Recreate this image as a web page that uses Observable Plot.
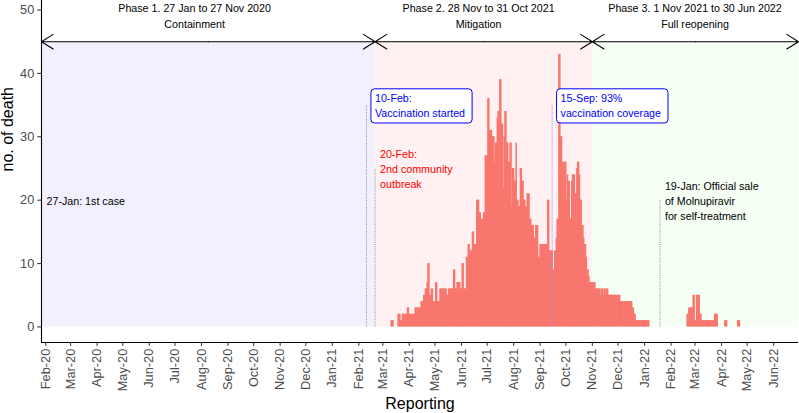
<!DOCTYPE html>
<html>
<head>
<meta charset="utf-8">
<script src="https://cdn.jsdelivr.net/npm/d3@7"></script>
<script src="https://cdn.jsdelivr.net/npm/@observablehq/plot@0.6"></script>
<style>
html, body { margin: 0; padding: 0; background: #fff; }
svg { display: block; }
</style>
</head>
<body>
<div id="chart"></div>
<script>
// ---------------- data ----------------
const dataStart = "2021-03-01"; // first day of the daily series
const dailyDeaths = [
  0,0,0,0,0,0,0,0,0,0,1,1,1,0,0,0,0,0,2,2,
  2,1,1,2,2,2,2,2,2,3,3,2,2,2,2,2,2,2,3,3,
  3,3,3,3,3,4,4,4,5,5,6,6,7,10,10,5,5,6,6,4,
  4,4,7,7,4,4,4,6,6,6,6,6,6,6,6,5,5,6,6,6,
  6,6,6,9,9,6,6,7,7,7,7,6,6,10,10,6,6,6,11,11,
  13,13,12,12,12,15,15,13,13,13,20,20,20,18,18,17,17,17,18,18,
  27,27,27,36,36,31,31,31,30,30,30,26,29,29,33,34,34,39,39,32,
  32,22,30,34,34,29,29,26,26,29,29,19,25,25,23,23,29,20,20,19,
  19,25,25,23,23,20,20,19,19,21,21,21,17,17,16,16,16,14,14,16,
  16,16,11,11,13,13,13,13,13,13,13,13,13,20,20,12,12,12,12,9,
  9,12,12,14,17,17,43,43,30,30,26,26,25,26,26,20,24,23,23,17,
  17,23,24,24,24,21,21,25,26,26,24,20,20,16,16,14,13,13,11,9,
  9,8,7,7,7,7,7,7,7,6,6,6,6,6,6,5,6,6,5,6,
  6,5,6,6,5,5,5,5,5,5,5,5,5,5,5,5,5,5,4,4,
  4,4,4,4,4,4,4,4,4,4,4,4,3,3,2,2,1,1,1,1,
  1,1,1,1,1,1,1,1,1,1,1,1,0,0,0,0,0,0,0,0,
  0,0,0,0,0,0,0,0,0,0,0,0,0,0,0,0,0,0,0,0,
  0,0,0,0,0,0,0,0,0,0,0,0,0,0,0,0,2,2,3,3,
  3,3,3,5,5,1,1,5,5,5,5,2,2,1,1,1,1,1,1,1,
  1,1,1,1,1,1,1,1,2,2,2,2,0,0,0,0,0,0,0,0,
  1,1,1,0,0,0,0,0,0,0,0,0,0,0,0,1,1,1
];

const phaseStart = ["2020-01-27", "2021-02-20", "2021-11-01"];
const phaseEnd   = ["2021-02-20", "2021-11-01", "2022-06-30"];
const phaseTitle = ["Phase 1. 27 Jan to 27 Nov 2020", "Phase 2. 28 Nov to 31 Oct 2021", "Phase 3. 1 Nov 2021 to 30 Jun 2022"];
const phaseName  = ["Containment", "Mitigation", "Full reopening"];
const phaseLabelDate = ["2020-07-24", "2021-06-21", "2022-03-01"];
const phaseLevel = 45;

const eventDate = ["2020-01-27", "2021-02-10", "2021-02-20", "2021-09-15", "2022-01-19"];
const eventTop  = [20, 35, 25, 35, 20];
const eventText = [
  "27-Jan: 1st case",
  "10-Feb:\nVaccination started",
  "20-Feb:\n2nd community\noutbreak",
  "15-Sep: 93%\nvaccination coverage",
  "19-Jan: Official sale\nof Molnupiravir\nfor self-treatment"
];
const eventBoxed = [false, true, false, true, false];

const yTicks = [0, 10, 20, 30, 40, 50];
const xDomain = [new Date("2020-01-27"), new Date("2022-06-30")];
const yDomain = [-2.45, 51.5];
const monthTicks = d3.utcMonth.range(new Date("2020-02-01"), new Date("2022-06-02"));

// ---------------- styles ----------------
const phaseFill = ["#f3f0fe", "#fff0f1", "#f5fff4"];
const eventTextColor = ["black", "blue", "red", "blue", "black"];
const eventLineColor = ["#8c8c8c", "#8c8c8c", "#8c8c8c", "#8a86ff", "#8c8c8c"];
const FONT = "'Liberation Sans', Arial, Helvetica, sans-serif";

// ---------------- tables ----------------
const deaths = dailyDeaths
  .map((v, i) => ({date: d3.utcDay.offset(new Date(dataStart), i), value: v}))
  .filter(d => d.value > 0);

const phases = phaseStart.map((s, i) => ({
  start: new Date(s), end: new Date(phaseEnd[i]),
  title: phaseTitle[i], name: phaseName[i],
  labelDate: new Date(phaseLabelDate[i]), fill: phaseFill[i]
}));
const arrows = phases.flatMap(p => {
  const mid = new Date((+p.start + +p.end) / 2);
  return [{x1: mid, x2: p.start}, {x1: mid, x2: p.end}];
});

const events = eventDate.map((d, i) => ({
  date: new Date(d), top: eventTop[i], text: eventText[i],
  color: eventTextColor[i], line: eventLineColor[i], boxed: eventBoxed[i]
}));

// ---------------- plot ----------------
const chart = Plot.plot({
  width: 799,
  height: 413,
  marginLeft: 41,
  marginRight: 1,
  marginTop: 0,
  marginBottom: 71,
  style: {fontFamily: FONT, fontSize: "10.7px", background: "white", overflow: "visible"},
  x: {type: "utc", domain: xDomain, label: null},
  y: {domain: yDomain, label: null},
  color: {type: "identity"},
  marks: [
    Plot.rect(phases, {x1: "start", x2: "end", y1: 0, y2: phaseLevel, fill: "fill"}),
    Plot.rect(deaths, {x1: "date", x2: d => d3.utcDay.offset(d.date, 1), y1: 0, y2: "value", fill: "#F8766D", insetLeft: -0.35, insetRight: -0.35}),
    Plot.ruleX(events, {x: "date", y1: 0, y2: "top", stroke: "line", strokeWidth: 1, strokeDasharray: "1,1.2"}),
    Plot.arrow(arrows, {x1: "x1", x2: "x2", y1: phaseLevel, y2: phaseLevel, stroke: "black", strokeWidth: 1.1, headLength: 18.8, headAngle: 64}),
    Plot.text(phases, {x: "labelDate", y: 50.3, text: "title", fill: "black", fontSize: 10.7}),
    Plot.text(phases, {x: "labelDate", y: 47.7, text: "name", fill: "black", fontSize: 10.7}),
    Plot.text(events.filter(e => !e.boxed), {x: "date", y: "top", text: "text", fill: "color", textAnchor: "start", dx: 5, fontSize: 10.7, lineHeight: 1.4}),
    Plot.text(events.filter(e => e.boxed), {x: "date", y: "top", text: "text", fill: "color", textAnchor: "start", dx: 8.4, fontSize: 10.7, lineHeight: 1.4}),
    Plot.ruleX([xDomain[0]], {y1: yDomain[0], y2: yDomain[1], stroke: "black", strokeWidth: 1.1}),
    Plot.ruleY([yDomain[0]], {stroke: "black", strokeWidth: 1.1}),
    Plot.axisY({ticks: yTicks, tickSize: 3.7, tickPadding: 3.5, fontSize: 12.8, label: null}),
    Plot.axisX({ticks: monthTicks, tickFormat: d3.utcFormat("%b-%y"), tickRotate: -90, tickSize: 3.7, tickPadding: 2.5, fontSize: 12.8, label: null}),
    Plot.text(["Reporting"], {frameAnchor: "bottom", dy: 66, fontSize: 16, fill: "black"}),
    Plot.text(["no. of death"], {frameAnchor: "left", dx: -33.5, rotate: -90, fontSize: 16, fill: "black"})
  ]
});

document.getElementById("chart").append(chart);

// axis colours (ggplot theme_classic)
chart.querySelectorAll('g[aria-label$="axis tick"]').forEach(g => { g.setAttribute("stroke", "#333333"); g.setAttribute("stroke-width", "1.07"); });
chart.querySelectorAll('g[aria-label$="axis tick label"]').forEach(g => g.setAttribute("fill", "#4d4d4d"));

// rounded label boxes behind the blue (boxed) annotations
chart.querySelectorAll('text[fill="blue"]').forEach(t => {
  const b = t.getBBox();
  const r = document.createElementNS("http://www.w3.org/2000/svg", "rect");
  r.setAttribute("x", b.x - 4);
  r.setAttribute("y", b.y - 3.6);
  r.setAttribute("width", b.width + 11);
  r.setAttribute("height", b.height + 7.2);
  r.setAttribute("rx", 3.5);
  r.setAttribute("fill", "white");
  r.setAttribute("stroke", "blue");
  r.setAttribute("stroke-width", 1);
  if (t.getAttribute("transform")) r.setAttribute("transform", t.getAttribute("transform"));
  t.parentNode.insertBefore(r, t);
});
</script>
</body>
</html>
